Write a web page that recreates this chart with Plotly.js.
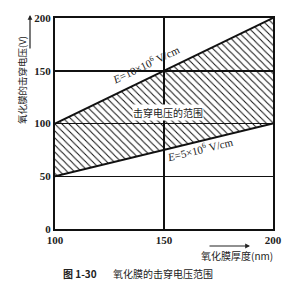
<!DOCTYPE html>
<html><head><meta charset="utf-8">
<script src="https://cdn.plot.ly/plotly-3.0.1.min.js"></script>
<style>html,body{margin:0;padding:0;background:#fff}#c{width:284px;height:288px}</style>
</head><body><div id="c"></div>
<script>
const thickness = [100, 200];
const upperVoltage = [100, 200];   // E = 10×10^6 V/cm
const lowerVoltage = [50, 100];    // E = 5×10^6 V/cm
const xTicks = [100, 150, 200];
const yTicks = [0, 50, 100, 150, 200];

const serif = "Liberation Serif, DejaVu Serif, serif";
const cjk = "Noto Sans CJK SC, sans-serif";

const traces = [
  {x: thickness, y: lowerVoltage, mode: 'lines', line: {color: '#111', width: 2}, hoverinfo: 'skip'},
  {x: thickness, y: upperVoltage, mode: 'lines', line: {color: '#111', width: 2}, hoverinfo: 'skip',
   fill: 'tonexty', fillcolor: 'rgba(0,0,0,0)',
   fillpattern: {shape: '\\', size: 5, solidity: 0.2, fgcolor: '#111', bgcolor: 'rgba(255,255,255,0)', fgopacity: 1}}
];

const L = 55, T = 18, W = 218, H = 211;
const px = v => (v - L) / W, py = v => (T + H - v) / H;

const layout = {
  width: 284, height: 288,
  margin: {l: L, r: 284 - L - W, t: T, b: 288 - T - H},
  paper_bgcolor: '#fff', plot_bgcolor: '#fff',
  showlegend: false,
  xaxis: {range: [100, 200], tickvals: xTicks, ticktext: xTicks.map(String),
    showgrid: true, gridcolor: '#111', gridwidth: 1.5, zeroline: false,
    showline: true, mirror: true, linecolor: '#111', linewidth: 2, ticks: '',
    tickfont: {family: serif, size: 11, color: '#222', weight: 'bold'}, ticklabelstandoff: 0, fixedrange: true},
  yaxis: {range: [0, 200], tickvals: yTicks, ticktext: yTicks.map(String),
    showgrid: true, gridcolor: '#111', gridwidth: 1.5, zeroline: false,
    showline: true, mirror: true, linecolor: '#111', linewidth: 2, ticks: '',
    tickfont: {family: serif, size: 11, color: '#222', weight: 'bold'}, ticklabelstandoff: 0, fixedrange: true},
  annotations: [
    {x: 141.7, y: 156.4, xref: 'x', yref: 'y', text: '<i>E</i>=10×10<sup>6</sup> V/cm', showarrow: false,
     xanchor: 'center', yanchor: 'middle', textangle: -25.7, font: {family: serif, size: 11, color: '#222'}},
    {x: 166.5, y: 76, xref: 'x', yref: 'y', text: '<i>E</i>=5×10<sup>6</sup> V/cm', showarrow: false,
     xanchor: 'center', yanchor: 'middle', textangle: -13.7, font: {family: serif, size: 11, color: '#222'}},
    {x: 151.8, y: 110, xref: 'x', yref: 'y', text: '击穿电压的范围', showarrow: false, bgcolor: '#fff',
     xanchor: 'center', yanchor: 'middle', borderpad: 0, font: {family: cjk, size: 10, color: '#222'}},
    {x: px(22), y: py(80), xref: 'paper', yref: 'paper', text: '氧化膜的击穿电压(V)', showarrow: false,
     xanchor: 'center', yanchor: 'middle', textangle: -90, font: {family: cjk, size: 9.5, color: '#222'}},
    {x: px(30), y: py(15), xref: 'paper', yref: 'paper', text: '', showarrow: true, ax: 0, ay: 35,
     arrowhead: 2, arrowsize: 0.8, arrowwidth: 1.2, arrowcolor: '#222'},
    {x: px(250), y: py(246), xref: 'paper', yref: 'paper', text: '', showarrow: true, ax: -42, ay: 0,
     arrowhead: 2, arrowsize: 0.8, arrowwidth: 1.2, arrowcolor: '#222'},
    {x: px(237), y: py(256), xref: 'paper', yref: 'paper', text: '氧化膜厚度(nm)', showarrow: false,
     xanchor: 'center', yanchor: 'middle', font: {family: cjk, size: 10, color: '#222'}},
    {x: px(80), y: py(273), xref: 'paper', yref: 'paper', text: '<b>图 1-30</b>', showarrow: false,
     xanchor: 'center', yanchor: 'middle', font: {family: cjk, size: 10, color: '#222'}},
    {x: px(163), y: py(273), xref: 'paper', yref: 'paper', text: '氧化膜的击穿电压范围', showarrow: false,
     xanchor: 'center', yanchor: 'middle', font: {family: cjk, size: 10, color: '#222'}}
  ]
};

Plotly.newPlot('c', traces, layout, {staticPlot: true, displayModeBar: false});
</script></body></html>
